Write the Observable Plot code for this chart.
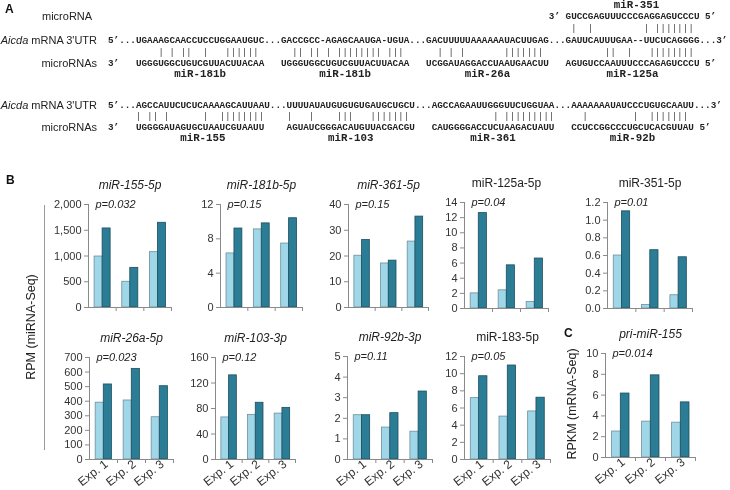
<!DOCTYPE html>
<html><head><meta charset="utf-8">
<script src="https://cdn.jsdelivr.net/npm/d3@7"></script>
<script src="https://cdn.jsdelivr.net/npm/@observablehq/plot@0.6"></script>
<style>
body{margin:0;background:#fff;}
#fig{position:relative;width:730px;height:490px;overflow:hidden;font-family:"Liberation Sans",Arial,sans-serif;background:#fff;}
#fig svg{position:absolute;overflow:visible;}
#panelA{will-change:transform;}
</style></head><body><div id="fig"></div>
<script>
// ---------- Panel A data ----------
const sites1 = ["UGAAAGCAACCUCCUGGAAUGUC","GACCGCC-AGAGCAAUGA-UGUA","GACUUUUUAAAAAAUACUUGAG","GAUUCAUUUGAA--UUCUCAGGGG"];
const mirs1 = ["UGGGUGGCUGUCGUUACUUACAA","UGGGUGGCUGUCGUUACUUACAA","UCGGAUAGGACCUAAUGAACUU","AGUGUCCAAUUUCCCAGAGUCCCU"];
const names1 = ["miR-181b","miR-181b","miR-26a","miR-125a"];
const pairs1 = [[4,6,8,9,12,16,17,18,19,20,21],[2,3,5,6,8,10,11,12,13,14,15,16,17,19,20,21],[2,4,6,14,15,16,17,18,19,20],[7,8,11,15,16,17,18,19,20,21,22]];
const mir351 = "GUCCGAGUUUCCCGAGGAGUCCCU";
const pairs351 = [1,4,14,16,17,18,19,20,21,22];
const sites2 = ["AGCCAUUCUCUCAAAAGCAUUAAU","UUUUAUAUGUGUGUGAUGCUGCU","AGCCAGAAUUGGGUUCUGGUAA","AAAAAAAUAUCCCUGUGCAAUU"];
const mirs2 = ["UGGGGAUAGUGCUAAUCGUAAUU","AGUAUCGGGACAUGUUACGACGU","CAUGGGGACCUCUAAGACUAUU","CCUCCGGCCCUGCUCACGUUAU"];
const names2 = ["miR-155","miR-103","miR-361","miR-92b"];
const pairs2 = [[0,2,3,5,12,15,16,17,18,19,20,21,22],[0,4,9,10,11,15,16,17,18,19,20,21],[11,13,14,15,16,17,18,19,20,21],[2,11,14,15,16,17,18,19,20]];

// ---------- Panel B/C data ----------
const experiments = ["Exp. 1","Exp. 2","Exp. 3"];
const titles = ["miR-155-5p","miR-181b-5p","miR-361-5p","miR-125a-5p","miR-351-5p","miR-26a-5p","miR-103-3p","miR-92b-3p","miR-183-5p","pri-miR-155"];
const italicTitle = [true,true,true,false,false,true,true,true,false,true];
const pValues = ["p=0.032","p=0.15","p=0.15","p=0.04","p=0.01","p=0.023","p=0.12","p=0.11","p=0.05","p=0.014"];
const lightValues = [[990,500,1075],[6.3,9.1,7.45],[20.1,17.1,25.6],[2.0,2.4,0.85],[0.60,0.04,0.15],[390,405,290],[66,70,72],[2.15,1.55,1.35],[7.15,5.0,5.6],[2.5,3.45,3.35]];
const darkValues = [[1535,770,1645],[9.2,9.8,10.4],[26.2,18.2,35.3],[12.6,5.7,6.6],[1.10,0.66,0.58],[515,622,503],[132,89,81],[2.15,2.25,3.3],[9.7,10.95,7.2],[6.15,7.9,5.3]];
const yMax = [2000,12,40,14,1.2,700,160,5,12,10];
const yStep = [500,4,10,2,0.2,100,40,1,2,2];
const tickFormats = [d3.format(","),null,null,null,d3.format(".1f"),null,null,null,null,null];

// ---------- layout ----------
const layout = [[88,171,204,307],[220,302,204,307],[348,428,204,307],[464,548,202,308],[607,692,202,308],
                [89,173,357,459],[215,295,357,459],[347,432,356,459],[464,550,356,459],[605,695,353,457]];
const fig = document.getElementById("fig");
const FONT = "'Liberation Sans',Arial,sans-serif";
const MONO = "'Liberation Mono','Courier New',monospace";
const lightFill = "#9fd6e8", lightStroke = "#6f8f9a", darkFill = "#2b7d96", darkStroke = "#1c4e5e";

// ---------- Panel A ----------
const svgA = d3.create("svg").attr("id","panelA").attr("width",730).attr("height",150).style("left","0px").style("top","0px");
const cw = 5.58, x0 = 108;
function seg(str, col, y, size, weight){
  svgA.append("text").attr("x", x0 + col*cw).attr("y", y).attr("dominant-baseline","central")
    .attr("font-family", MONO).attr("font-size", size).attr("font-weight", weight).attr("fill","#222")
    .attr("textLength", str.length*cw).attr("lengthAdjust","spacingAndGlyphs").text(str);
}
function bars(list, col, y){
  list.forEach(i => svgA.append("text").attr("x", x0 + (col+i+0.5)*cw).attr("y", y)
    .attr("dominant-baseline","central").attr("text-anchor","middle")
    .attr("font-family", FONT).attr("font-size", 8.5).attr("fill","#333").text("|"));
}
function label(txt, x, y, anchor, italicPart){
  const t = svgA.append("text").attr("x",x).attr("y",y).attr("dominant-baseline","central")
    .attr("text-anchor",anchor).attr("font-family",FONT).attr("font-size",11).attr("fill","#222");
  if (italicPart){ t.append("tspan").attr("font-style","italic").text(italicPart); t.append("tspan").text(txt); }
  else t.text(txt);
}
function block(sites, mirs, names, pairs, yTop, yPair, yBot, yName){
  const top = "5\u2019..." + sites.join("...") + "...3\u2019";
  seg(top, 0, yTop, 9.3, "bold");
  let col = 5;
  seg("3\u2019", 0, yBot, 9.3, "bold");
  sites.forEach((s,k) => {
    seg(mirs[k], col, yBot, 9.3, "bold");
    bars(pairs[k], col, yPair);
    svgA.append("text").attr("x", x0 + (col + s.length/2)*cw).attr("y", yName).attr("dominant-baseline","central")
      .attr("text-anchor","middle").attr("font-family",MONO).attr("font-size",10.8).attr("font-weight","bold")
      .attr("fill","#222").text(names[k]);
    if (k === sites.length-1) seg("5\u2019", col + mirs[k].length + 1, yBot, 9.3, "bold");
    col += s.length + 3;
  });
  label(" mRNA 3'UTR", 97, yTop, "end", "Aicda");
  label("microRNAs", 97, yBot, "end");
}
svgA.append("text").attr("x",5).attr("y",9).attr("dominant-baseline","central").attr("font-family",FONT)
  .attr("font-size",12).attr("font-weight","bold").attr("fill","#111").text("A");
label("microRNA", 42, 16, "start");
block(sites1, mirs1, names1, pairs1, 40, 51.5, 63, 74);
{
  const col4 = 5 + sites1[0].length + 3 + sites1[1].length + 3 + sites1[2].length + 3;
  seg("3\u2019", col4-3, 16, 9.3, "bold");
  seg(mir351, col4, 16, 9.3, "bold");
  seg("5\u2019", col4 + mir351.length + 1, 16, 9.3, "bold");
  bars(pairs351, col4, 28);
  svgA.append("text").attr("x", x0 + (col4 + mir351.length/2)*cw + 4).attr("y", 5).attr("dominant-baseline","central")
    .attr("text-anchor","middle").attr("font-family",MONO).attr("font-size",10.8).attr("font-weight","bold")
    .attr("fill","#222").text("miR-351");
}
block(sites2, mirs2, names2, pairs2, 105, 116, 127, 138);
fig.appendChild(svgA.node());

// ---------- overlay labels for B / C ----------
const ov = d3.create("svg").attr("width",730).attr("height",490).style("left","0px").style("top","0px");
ov.append("text").attr("x",6).attr("y",180).attr("dominant-baseline","central").attr("font-family",FONT)
  .attr("font-size",12).attr("font-weight","bold").attr("fill","#111").text("B");
ov.append("text").attr("x",564).attr("y",333).attr("dominant-baseline","central").attr("font-family",FONT)
  .attr("font-size",12).attr("font-weight","bold").attr("fill","#111").text("C");
ov.append("line").attr("x1",44.5).attr("x2",44.5).attr("y1",205).attr("y2",450).attr("stroke","#999").attr("stroke-width",1);
ov.append("text").attr("transform","translate(31,327) rotate(-90)").attr("text-anchor","middle").attr("dominant-baseline","central")
  .attr("font-family",FONT).attr("font-size",12.5).attr("fill","#222").text("RPM (miRNA-Seq)");
ov.append("text").attr("transform","translate(572,404) rotate(-90)").attr("text-anchor","middle").attr("dominant-baseline","central")
  .attr("font-family",FONT).attr("font-size",12.5).attr("fill","#222").text("RPKM (mRNA-Seq)");
fig.appendChild(ov.node());

// ---------- charts ----------
function chart(k){
  const [ax, ae, yt, yb] = layout[k];
  const ml = 60, mr = 10, mt = 30, mb = 45;
  const rows = experiments.flatMap((e,i) => [
    {i, cond:"light", v: lightValues[k][i]},
    {i, cond:"dark", v: darkValues[k][i]}
  ]);
  const ticks = d3.range(0, yMax[k] + yStep[k]/2, yStep[k]);
  const fmt = tickFormats[k] || (d => String(+d.toFixed(3)));
  const bottomRow = k >= 5;
  const marks = [
    Plot.rect(rows, {
      x1: d => d.i + (d.cond === "light" ? 0.22 : 0.51),
      x2: d => d.i + (d.cond === "light" ? 0.51 : 0.80),
      y1: 0, y2: "v",
      fill: d => d.cond === "light" ? lightFill : darkFill,
      stroke: d => d.cond === "light" ? lightStroke : darkStroke,
      strokeWidth: 0.8
    }),
    Plot.ruleY([0], {stroke:"#8a8a8a"}),
    Plot.ruleX([0], {stroke:"#8a8a8a"}),
    Plot.axisY({ticks, tickFormat: fmt, tickSize: 4, tickPadding: 3, stroke:"#8a8a8a", fill:"#333", fontSize: 11, label: null}),
    Plot.axisX({ticks:[1,2,3], tickSize: 4, tickFormat: () => "", stroke:"#8a8a8a", label: null}),
    Plot.text([titles[k]], {frameAnchor:"top", dy: -19, lineAnchor:"middle", fontStyle: italicTitle[k] ? "italic" : "normal", fontSize: 12, fill:"#222"}),
    Plot.text([pValues[k]], {frameAnchor:"top-left", dx: 7, lineAnchor:"middle", textAnchor:"start", fontStyle:"italic", fontSize: 11, fill:"#222"})
  ];
  if (bottomRow) marks.push(Plot.axisX({ticks:[0.5,1.5,2.5], tickSize: 0, tickPadding: 3, tickRotate: -38, dx: 3,
    tickFormat: t => experiments[Math.floor(t)], fill:"#333", fontSize: 12, label: null}));
  const p = Plot.plot({
    width: ae - ax + ml + mr, height: yb - yt + mt + mb,
    marginLeft: ml, marginRight: mr, marginTop: mt, marginBottom: mb,
    x: {domain:[0,3], label: null}, y: {domain:[0, yMax[k]], label: null},
    style: {fontFamily: FONT, fontSize: "11px", background: "transparent", color: "#333", overflow: "visible"},
    marks
  });
  p.style.position = "absolute";
  p.style.left = (ax - ml) + "px";
  p.style.top = (yt - mt) + "px";
  fig.appendChild(p);
}
titles.forEach((t,k) => chart(k));
</script></body></html>
